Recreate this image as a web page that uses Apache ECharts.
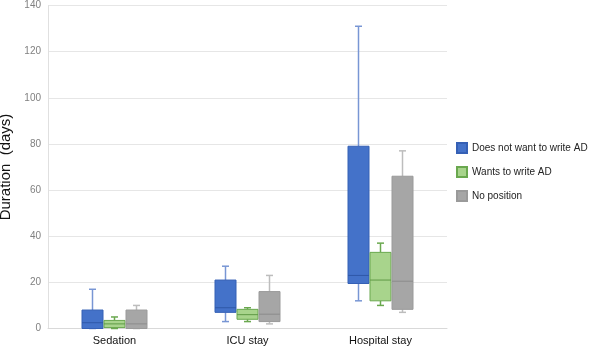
<!DOCTYPE html>
<html>
<head>
<meta charset="utf-8">
<script src="https://cdn.jsdelivr.net/npm/echarts@6/dist/echarts.min.js"></script>
<style>html,body{margin:0;padding:0;background:#fff;}#c{width:597px;height:353px;}</style>
</head>
<body>
<div id="c"></div>
<script>
const categories = ['Sedation', 'ICU stay', 'Hospital stay'];
const seriesNames = ['Does not want to write AD', 'Wants to write AD', 'No position'];
// [min, Q1, median, Q3, max] per category
const notWant = [[0, 0, 2.5, 8, 17], [3, 7, 9, 21, 27], [12, 19.5, 23, 79, 131]];
const wants = [[0, 0.4, 2, 3.5, 5], [3, 4, 6, 8.3, 9], [10, 12, 21, 33, 37]];
const noPosition = [[0, 0, 2, 8, 10], [2, 3, 6.2, 16, 23], [7, 8.3, 20.5, 66, 77]];
const yTicks = { min: 0, max: 140, interval: 20 };

const styles = [
  { fill: '#4472c9', border: '#3560b5', whisker: '#7896d4', median: '#2f58a8', offset: -22 },
  { fill: '#a8d48c', border: '#6aa84f', whisker: '#6aa84f', median: '#5f9a45', offset: 0 },
  { fill: '#a6a6a6', border: '#9a9a9a', whisker: '#bdbdbd', median: '#8c8c8c', offset: 22 }
];

function makeRender(st) {
  return function (params, api) {
    const c = api.value(0);
    const lo = api.coord([c, api.value(1)]);
    const q1 = api.coord([c, api.value(2)]);
    const med = api.coord([c, api.value(3)]);
    const q3 = api.coord([c, api.value(4)]);
    const hi = api.coord([c, api.value(5)]);
    const cx = lo[0] + st.offset;
    const w = 21, cap = 7;
    const lineStyle = { stroke: st.whisker, lineWidth: 1.5 };
    return {
      type: 'group',
      children: [
        { type: 'line', shape: { x1: cx, y1: q3[1], x2: cx, y2: hi[1] }, style: lineStyle },
        { type: 'line', shape: { x1: cx - cap / 2, y1: hi[1], x2: cx + cap / 2, y2: hi[1] }, style: lineStyle },
        { type: 'line', shape: { x1: cx, y1: q1[1], x2: cx, y2: lo[1] }, style: lineStyle },
        { type: 'line', shape: { x1: cx - cap / 2, y1: lo[1], x2: cx + cap / 2, y2: lo[1] }, style: lineStyle },
        { type: 'rect', shape: { x: cx - w / 2, y: q3[1], width: w, height: Math.max(q1[1] - q3[1], 0.5) },
          style: { fill: st.fill, stroke: st.border, lineWidth: 1 } },
        { type: 'line', shape: { x1: cx - w / 2, y1: med[1], x2: cx + w / 2, y2: med[1] },
          style: { stroke: st.median, lineWidth: 1 } }
      ]
    };
  };
}

function toData(arr) {
  return arr.map((d, i) => [i].concat(d));
}

const allData = [notWant, wants, noPosition];
const series = allData.map((arr, i) => ({
  name: seriesNames[i],
  type: 'custom',
  renderItem: makeRender(styles[i]),
  itemStyle: { color: styles[i].fill, borderColor: styles[i].border, borderWidth: 1 },
  encode: { x: 0, y: [1, 2, 3, 4, 5] },
  data: toData(arr)
}));

const chart = echarts.init(document.getElementById('c'), null, { renderer: 'canvas' });
chart.setOption({
  animation: false,
  backgroundColor: '#fff',
  textStyle: { fontFamily: 'Liberation Sans, Arial, sans-serif' },
  grid: { left: 48, right: 150, top: 5.5, bottom: 24.5, containLabel: false, outerBoundsMode: 'none' },
  legend: {
    orient: 'vertical',
    left: 451,
    top: 137,
    itemWidth: 10,
    itemHeight: 10,
    itemGap: 12,
    icon: 'rect',
    textStyle: { fontSize: 10, color: '#222', fontFamily: 'Liberation Sans, Arial, sans-serif' },
    data: seriesNames
  },
  xAxis: {
    type: 'category',
    data: categories,
    boundaryGap: true,
    axisLine: { show: true, lineStyle: { color: '#d9d9d9' } },
    axisTick: { show: false },
    axisLabel: { color: '#111', fontSize: 11, margin: 7 },
    splitLine: { show: false }
  },
  yAxis: {
    type: 'value',
    min: yTicks.min,
    max: yTicks.max,
    interval: yTicks.interval,
    name: 'Duration  (days)',
    nameLocation: 'middle',
    nameGap: 26,
    nameTextStyle: { fontSize: 15, color: '#111' },
    axisLine: { show: true, lineStyle: { color: '#e0e0e0' } },
    axisTick: { show: false },
    axisLabel: { color: '#808080', fontSize: 10, margin: 7 },
    splitLine: { show: true, lineStyle: { color: '#e6e6e6' } }
  },
  series: series
});
</script>
</body>
</html>
